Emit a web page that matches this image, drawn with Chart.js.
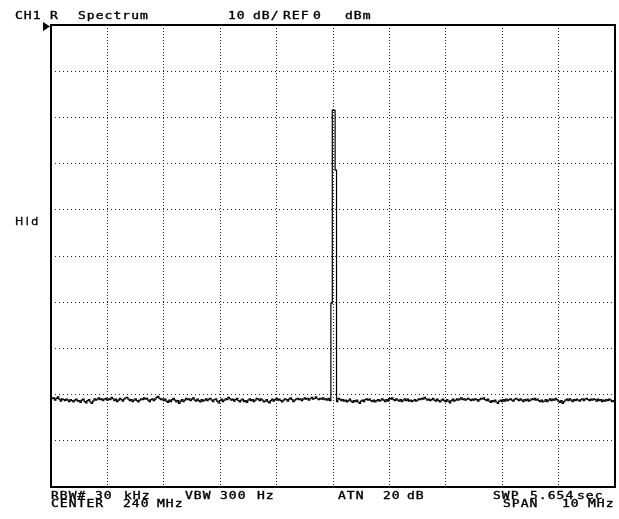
<!doctype html>
<html lang="en">
  <head>
    <meta charset="utf-8">
    <title>Spectrum</title>
    <style>
      * { margin: 0; padding: 0; }
      body { background: #fff; }
      canvas { display: block; }
    </style>
  </head>
  <body>
    <canvas id="myChart" width="619" height="519"></canvas>
    <script src="https://cdn.jsdelivr.net/npm/chart.js/dist/chart.umd.min.js"></script>
    <script>
    // setup
    // sweep: center 240 MHz, span 10 MHz, 401 points
    const startFreq = 235
    const stopFreq = 245
    const refLevel = 0
    const bottomLevel = -100

    // trace values in dBm (20 per row)
    const levels = [
      -80.6,-80.9,-80.7,-81.2,-80.8,-80.5,-81.0,-81.4,-80.9,-81.1,-81.3,-81.0,-81.2,-81.5,-81.1,-81.3,-81.6,-81.2,-81.0,-81.4,
      -81.3,-81.7,-81.2,-81.0,-81.5,-81.8,-81.3,-81.1,-81.6,-81.9,-81.4,-80.9,-81.2,-81.0,-80.7,-81.1,-80.9,-81.3,-81.0,-80.8,
      -81.2,-80.9,-81.1,-80.6,-80.9,-81.3,-81.0,-81.5,-81.2,-80.8,-81.1,-81.4,-81.0,-80.7,-80.6,-81.0,-81.3,-81.1,-81.5,-81.2,
      -80.9,-81.3,-81.6,-81.2,-80.9,-81.1,-80.7,-81.0,-80.8,-81.2,-81.5,-81.1,-80.9,-81.3,-81.0,-80.6,-80.4,-80.8,-81.1,-80.9,
      -81.3,-81.0,-81.4,-81.7,-81.2,-81.5,-81.1,-80.8,-81.2,-81.6,-81.3,-81.9,-81.4,-81.1,-81.5,-81.2,-80.8,-81.1,-80.9,-81.3,
      -81.0,-80.7,-81.2,-81.4,-81.0,-81.3,-81.6,-81.1,-81.4,-81.2,-80.9,-81.3,-81.0,-80.8,-81.2,-81.5,-81.1,-80.9,-81.4,-81.8,
      -81.3,-81.0,-81.5,-81.2,-80.9,-81.1,-80.6,-80.9,-81.2,-81.0,-81.4,-81.1,-80.8,-81.3,-81.6,-81.2,-81.0,-81.5,-81.3,-81.7,
      -81.2,-80.9,-81.3,-81.1,-81.5,-81.2,-80.8,-81.0,-81.3,-80.9,-81.2,-81.6,-81.4,-81.1,-81.5,-81.8,-81.3,-81.0,-81.4,-81.1,
      -80.8,-81.2,-81.0,-81.3,-81.6,-81.2,-80.9,-81.1,-81.4,-81.0,-80.7,-81.1,-81.5,-81.2,-81.0,-80.8,-81.1,-80.9,-81.3,-81.0,
      -80.7,-81.0,-80.8,-81.2,-80.9,-80.6,-81.0,-80.8,-80.5,-80.9,-81.1,-80.8,-81.0,-80.7,-81.1,-80.9,-81.2,-80.8,-81.3,-60.2,
      -18.4,-18.5,-31.4,-81.5,-80.8,-81.0,-81.3,-81.1,-81.4,-81.2,-81.6,-81.3,-81.0,-81.4,-81.7,-81.3,-81.5,-81.2,-81.6,-81.9,
      -81.4,-81.2,-81.5,-81.1,-80.9,-81.2,-81.0,-81.3,-81.5,-81.2,-81.6,-81.3,-81.1,-81.4,-81.2,-80.9,-81.2,-81.5,-81.1,-81.4,
      -80.8,-81.0,-80.7,-81.1,-81.3,-80.9,-81.2,-81.4,-81.1,-81.5,-81.2,-80.9,-81.3,-81.0,-81.4,-81.2,-81.5,-81.3,-81.1,-81.4,
      -81.2,-80.9,-81.1,-80.8,-81.0,-80.6,-80.9,-81.2,-81.0,-81.3,-81.1,-80.8,-81.2,-81.4,-81.0,-81.3,-81.6,-81.2,-81.0,-81.3,
      -81.5,-81.1,-81.4,-81.8,-81.3,-81.0,-81.4,-81.2,-80.9,-81.2,-81.0,-80.7,-81.1,-80.9,-81.2,-81.0,-80.8,-81.1,-81.3,-81.0,
      -81.2,-80.9,-81.1,-81.4,-81.1,-80.8,-81.0,-80.7,-81.1,-81.3,-81.0,-81.4,-81.7,-81.3,-81.5,-81.2,-81.6,-81.9,-81.4,-81.2,
      -81.5,-81.1,-81.4,-81.0,-81.3,-81.1,-80.9,-81.2,-81.4,-81.0,-80.8,-81.1,-81.3,-80.9,-81.2,-81.5,-81.1,-81.3,-81.0,-81.4,
      -81.2,-80.9,-81.1,-80.8,-81.2,-81.0,-81.3,-81.5,-81.2,-81.6,-81.4,-81.1,-81.5,-81.2,-80.9,-81.3,-81.0,-81.2,-80.8,-81.1,
      -81.4,-81.7,-81.3,-81.9,-81.5,-81.2,-81.0,-81.3,-80.9,-81.2,-81.5,-81.1,-81.3,-81.0,-81.2,-81.4,-81.1,-80.9,-81.3,-81.0,
      -80.8,-81.1,-81.3,-81.0,-81.2,-80.9,-81.1,-81.4,-81.0,-81.3,-81.1,-81.5,-81.2,-81.4,-81.1,-81.3,-81.0,-81.2,-81.5,-81.3,
      -81.6
    ]

    // screen annotations: [text, x, baseline]
    const headerText = [
      ['CH1', 15, 19], ['R', 50, 19], ['Spectrum', 78, 19],
      ['10', 228, 19], ['dB/', 253, 19], ['REF', 283, 19], ['0', 313, 19], ['dBm', 345, 19],
    ]
    const footerText = [
      ['RBW#', 51, 499], ['30', 95, 499], ['kHz', 124, 499],
      ['VBW', 185, 499], ['300', 220, 499], ['Hz', 257, 499],
      ['ATN', 338, 499], ['20', 383, 499], ['dB', 407, 499],
      ['SWP', 493, 499], ['5.654', 530, 499], ['sec', 577, 499],
      ['CENTER', 51, 507], ['240', 123, 507], ['MHz', 157, 507],
      ['SPAN', 503, 507], ['10', 562, 507], ['MHz', 588, 507],
    ]

    const step = (stopFreq - startFreq) / (levels.length - 1)
    const trace = levels.map((v, i) => ({ x: startFreq + i * step, y: v }))

    const data = {
      datasets: [{
        label: 'Spectrum',
        data: trace,
        borderColor: '#000',
        borderWidth: 1.2,
        pointRadius: 0,
        stepped: 'middle',   // each sweep point is held like the analyzer display
        fill: false,
      }]
    }

    // frame, ref marker and the analyzer annotations
    const screenText = {
      id: 'screenText',
      afterDraw: (chart) => {
        const { ctx, chartArea: { top, bottom, left, right } } = chart
        ctx.save()

        // frame
        ctx.strokeStyle = '#000'
        ctx.lineWidth = 2
        ctx.strokeRect(left, top, right - left, bottom - top)

        // ref level marker
        ctx.fillStyle = '#000'
        ctx.beginPath()
        ctx.moveTo(43, top - 3)
        ctx.lineTo(43, top + 6)
        ctx.lineTo(50, top + 1.5)
        ctx.closePath()
        ctx.fill()

        // mono text, stretched a bit to look like the HP screen font
        ctx.font = '10px "DejaVu Sans Mono"'
        ctx.letterSpacing = '0.8px'
        ctx.textBaseline = 'alphabetic'
        ctx.strokeStyle = '#000'
        ctx.lineWidth = 0.35
        headerText.concat(footerText).forEach(([t, x, y]) => {
          ctx.save()
          ctx.translate(x, y)
          ctx.scale(1.3, 1)
          ctx.fillText(t, 0, 0)
          ctx.strokeText(t, 0, 0)
          ctx.restore()
        })

        ctx.font = '11px "DejaVu Sans"'
        ctx.letterSpacing = '2.5px'
        ctx.fillText('Hld', 15, 225)
        ctx.strokeText('Hld', 15, 225)

        ctx.restore()
      }
    }

    // config
    const config = {
      type: 'line',
      data,
      options: {
        responsive: false,
        animation: false,
        layout: {
          padding: { left: 51, top: 25, right: 4, bottom: 32 }
        },
        plugins: {
          legend: { display: false },
          tooltip: { enabled: false },
        },
        scales: {
          x: {
            type: 'linear',
            min: startFreq,
            max: stopFreq,
            ticks: { display: false, stepSize: 1 },
            grid: { color: '#222', drawTicks: false, tickLength: 0 },
            border: { display: false, dash: [1, 2] },
          },
          y: {
            min: bottomLevel,
            max: refLevel,
            ticks: { display: false, stepSize: 10 },
            grid: { color: '#222', drawTicks: false, tickLength: 0 },
            border: { display: false, dash: [1, 3] },
          }
        }
      },
      plugins: [screenText],
    }

    const myChart = new Chart(document.getElementById('myChart'), config)
    </script>
  </body>
</html>
